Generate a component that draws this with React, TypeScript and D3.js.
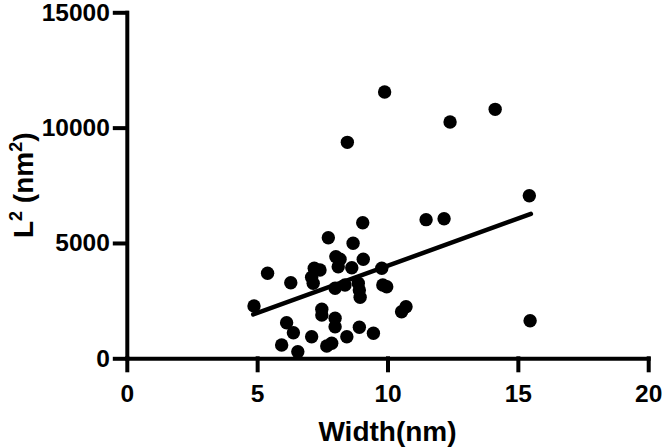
import React, { useEffect, useRef } from "react";
import * as d3 from "d3";

// widths (nm) and L^2 (nm^2)
const widths = [
  4.88, 5.40, 6.29, 7.73, 8.68, 9.05, 8.02, 8.18, 8.11, 9.07,
  8.63, 7.19, 7.41, 7.09, 7.15, 9.78, 7.99, 8.37, 8.88, 8.92,
  8.95, 9.82, 9.97, 7.48, 7.48, 7.99, 7.99, 6.13, 6.39, 5.94,
  6.56, 7.09, 7.67, 7.86, 8.44, 8.92, 9.46, 10.54, 10.71, 11.48,
  12.17, 9.89, 8.46, 12.40, 14.13, 15.44, 15.47,
];
const lengthsSq = [
  2267, 3684, 3277, 5228, 4985, 5878, 4404, 4291, 3971, 4291,
  3927, 3901, 3827, 3511, 3251, 3901, 3034, 3177, 3251, 2961,
  2644, 3177, 3104, 2124, 1877, 1734, 1370, 1543, 1110, 577,
  286, 936, 533, 650, 936, 1344, 1084, 2020, 2237, 6010,
  6051, 11543, 9363, 10243, 10793, 7048, 1630,
];

// linear fit drawn over the data range
const fitX = [4.85, 15.5];
const fitY = [1900, 6260];

const xTicks = [0, 5, 10, 15, 20];
const yTicks = [0, 5000, 10000, 15000];

const App = () => {
  const svgRef = useRef<SVGSVGElement>(null);

  useEffect(() => {
    const width = 664;
    const height = 448;
    const font = "'Liberation Sans', Arial, sans-serif";

    const svg = d3.select(svgRef.current)
      .attr("width", width)
      .attr("height", height)
      .style("background", "#fff");

    svg.selectAll("*").remove();

    const x = d3.scaleLinear().domain([0, 20]).range([126.8, 648.2]);
    const y = d3.scaleLinear().domain([0, 15000]).range([358.3, 12.3]);

    const styleAxis = (g) => {
      g.selectAll("path, line")
        .attr("stroke", "#000")
        .attr("stroke-width", 4)
        .attr("stroke-linecap", "square");
      g.selectAll("text")
        .attr("fill", "#000")
        .style("font-family", font)
        .style("font-weight", "bold")
        .style("font-size", "24.5px");
    };

    svg.append("g")
      .attr("transform", `translate(0, ${y(0)})`)
      .call(d3.axisBottom(x).tickValues(xTicks).tickSize(12).tickSizeOuter(0).tickPadding(14).tickFormat(d3.format("d")))
      .call(styleAxis);

    svg.append("g")
      .attr("transform", `translate(${x(0)}, 0)`)
      .call(d3.axisLeft(y).tickValues(yTicks).tickSize(12).tickSizeOuter(0).tickPadding(5).tickFormat(d3.format("d")))
      .call(styleAxis);

    const points = widths.map((w, i) => ({ w, l: lengthsSq[i] }));

    svg.selectAll(".dot")
      .data(points)
      .enter()
      .append("circle")
      .attr("cx", d => x(d.w))
      .attr("cy", d => y(d.l))
      .attr("r", 6.7)
      .attr("fill", "#000");

    const line = d3.line()
      .x(d => x(d[0]))
      .y(d => y(d[1]));

    svg.append("path")
      .datum(fitX.map((v, i) => [v, fitY[i]]))
      .attr("fill", "none")
      .attr("stroke", "#000")
      .attr("stroke-width", 4.5)
      .attr("stroke-linecap", "round")
      .attr("d", line);

    svg.append("text")
      .attr("x", (x(0) + x(20)) / 2)
      .attr("y", 441)
      .attr("text-anchor", "middle")
      .style("font-family", font)
      .style("font-weight", "bold")
      .style("font-size", "28px")
      .text("Width(nm)");

    const yTitle = svg.append("text")
      .attr("transform", `translate(33, ${(y(0) + y(15000)) / 2}) rotate(-90)`)
      .attr("text-anchor", "middle")
      .style("font-family", font)
      .style("font-weight", "bold")
      .style("font-size", "28px");
    yTitle.append("tspan").text("L");
    yTitle.append("tspan").attr("dy", -11).style("font-size", "18px").text("2");
    yTitle.append("tspan").attr("dy", 11).text(" (nm");
    yTitle.append("tspan").attr("dy", -11).style("font-size", "18px").text("2");
    yTitle.append("tspan").attr("dy", 11).text(")");
  }, []);

  return (
    <div style={{ position: "absolute", left: 0, top: 0 }}>
      <svg ref={svgRef} style={{ display: "block" }}></svg>
    </div>
  );
};

export default App;
